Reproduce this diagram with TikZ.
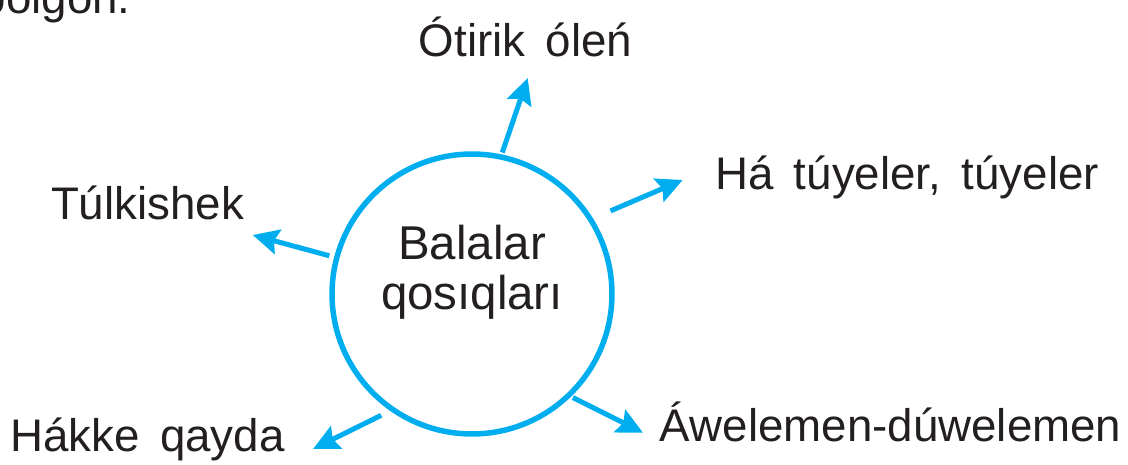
\documentclass[tikz,border=0pt]{standalone}
\usepackage{fontspec}
\setmainfont{Liberation Sans}
\usetikzlibrary{arrows.meta}
\definecolor{qblue}{RGB}{0,174,239}
\definecolor{qtext}{RGB}{35,31,32}
\newcommand{\lblfont}{\fontsize{26}{28.5}\selectfont\spaceskip=0.45em\relax}

\begin{document}
\begin{tikzpicture}[x=0.02cm, y=-0.02cm,
  >={Stealth[length=0.52cm, width=0.5cm, inset=0.08cm]},
  lbl/.style={inner sep=0pt, text=qtext, font=\lblfont, anchor=base west},
  arr/.style={->, qblue, line width=0.1cm}]

\clip (0,0) rectangle (1128,465);

%end of the line above
\node[lbl, anchor=base east] (prev) at (131,14) {bolgon.};

%Circle
\node[circle, draw=qblue, line width=0.11cm, minimum size=5.6cm,
inner sep=0pt] (circ) at (472,294) {};
\node[lbl, align=center, anchor=center,
font=\fontsize{27}{28.5}\selectfont] (title) at (472,272) {
    Balalar\\qosıqları
    };

%Songs
\node[lbl] (otirik) at (418.5,56.7) {Ótirik óleń};
\node[lbl] (tuyeler) at (714.7,190) {Há túyeler, túyeler};
\node[lbl] (tulki) at (50.7,220) {Túlkishek};
\node[lbl] (hakke) at (9.7,451.7) {Hákke qayda};
\node[lbl] (awelemen) at (659,441.7) {Áwelemen-dúwelemen};

%Arrow tips
\coordinate (tipotirik) at (527.7,78);
\coordinate (tiptuyeler) at (682.7,180);
\coordinate (tiptulki) at (252.7,235);
\coordinate (tiphakke) at (313,449);
\coordinate (tipawelemen) at (643,432.7);

%Paths
%circle to Otirik olen
\draw[arr, shorten <=0.04cm] (circ.78.8) -- (tipotirik);
%circle to Ha tuyeler
\draw[arr, shorten <=0.38cm] (circ.32.7) -- (tiptuyeler);
%circle to Tulkishek
\draw[arr, shorten <=0.1cm] (circ.165.4) -- (tiptulki);
%circle to Hakke qayda
\draw[arr, shorten <=0.2cm] (circ.235.7) -- (tiphakke);
%circle to Awelemen-duwelemen
\draw[arr, shorten <=0.04cm] (circ.314.1) -- (tipawelemen);

\end{tikzpicture}
\end{document}
